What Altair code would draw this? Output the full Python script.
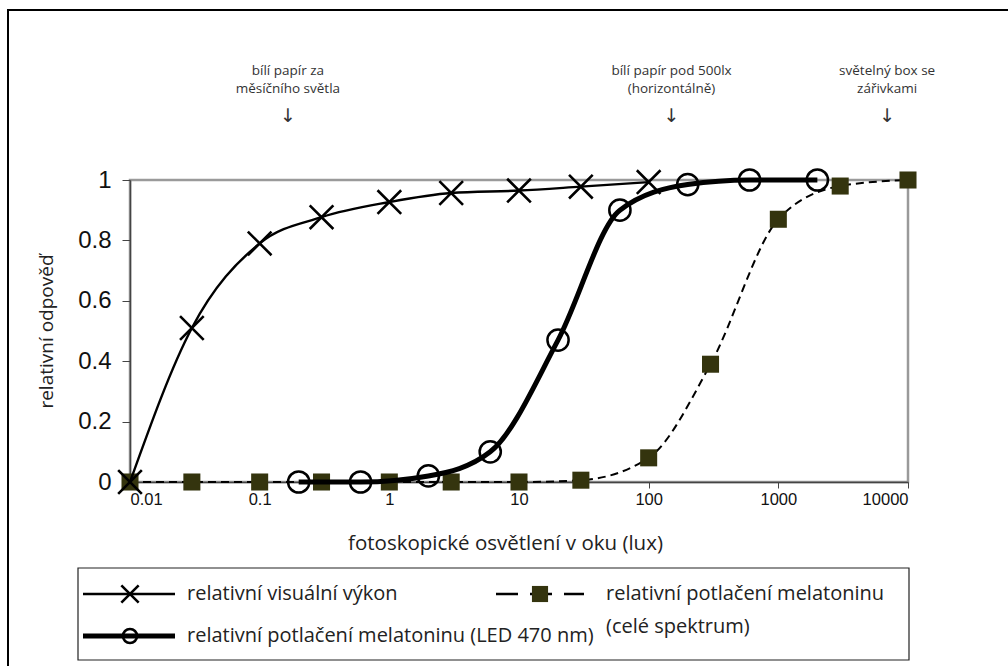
import altair as alt
import pandas as pd

# ---- data ----
vis_x = [0.01, 0.03, 0.1, 0.3, 1, 3, 10, 30, 100]
vis_y = [0.0, 0.51, 0.79, 0.877, 0.927, 0.957, 0.965, 0.978, 0.993]

led_x = [0.2, 0.6, 2, 6, 20, 60, 200, 600, 2000]
led_y = [0.0, 0.0, 0.02, 0.1, 0.47, 0.9, 0.985, 1.0, 1.0]

full_x = [0.01, 0.03, 0.1, 0.3, 1, 3, 10, 30, 100, 300, 1000, 3000, 10000]
full_y = [0.0, 0.0, 0.0, 0.0, 0.0, 0.0, 0.0, 0.006, 0.08, 0.39, 0.87, 0.98, 1.0]

x_ticks = [0.01, 0.1, 1, 10, 100, 1000, 10000]
y_ticks = [0, 0.2, 0.4, 0.6, 0.8, 1]

annot_x = [0.165, 150, 6900]
annot_text = ["bílí papír za\nměsíčního světla",
              "bílí papír pod 500lx\n(horizontálně)",
              "světelný box se\nzářivkami"]

x_title = "fotoskopické osvětlení v oku (lux)"
y_title = "relativní odpověď"
legend_labels = ["relativní visuální výkon",
                 "relativní potlačení melatoninu (LED 470 nm)",
                 "relativní potlačení melatoninu",
                 "(celé spektrum)"]

SQ_COLOR = "#34340e"
X_SHAPE = "M-1,-1L1,1M-1,1L1,-1"
TXT_FONT = "Open Sans"
NUM_FONT = "Liberation Sans"

xscale = alt.Scale(type="log", domain=[0.01, 10000])
yscale = alt.Scale(domain=[0, 1], nice=False)

xaxis = alt.Axis(values=x_ticks, format="~g", title=x_title,
                 labelFontSize=16.5, labelPadding=3, tickSize=6,
                 titleFontSize=20.5, titlePadding=26, titleX=375)
yaxis = alt.Axis(values=y_ticks, format="~g", title=y_title,
                 labelFontSize=24, labelPadding=11, tickSize=8,
                 titleFontSize=19, titleX=-74, titleY=151)

vis = pd.DataFrame({"x": vis_x, "y": vis_y})
led = pd.DataFrame({"x": led_x, "y": led_y})
full = pd.DataFrame({"x": full_x, "y": full_y})

enc = dict(x=alt.X("x:Q", scale=xscale, axis=xaxis),
           y=alt.Y("y:Q", scale=yscale, axis=yaxis))

full_line = alt.Chart(full).mark_line(color="black", strokeWidth=2, strokeDash=[8, 5],
                                      interpolate="monotone").encode(**enc)
full_pts = alt.Chart(full).mark_point(shape="square", filled=True, color=SQ_COLOR,
                                      size=290, opacity=1).encode(**enc)
led_line = alt.Chart(led).mark_line(color="black", strokeWidth=5,
                                    interpolate="monotone").encode(**enc)
led_pts = alt.Chart(led).mark_point(shape="circle", filled=False, color="black",
                                    strokeWidth=2.5, size=450, opacity=1).encode(**enc)
vis_line = alt.Chart(vis).mark_line(color="black", strokeWidth=2.4,
                                    interpolate="monotone").encode(**enc)
vis_pts = alt.Chart(vis).mark_point(shape=X_SHAPE, filled=False, color="black",
                                    strokeWidth=2.6, size=560, opacity=1).encode(**enc)

# ---- annotations above the plot ----
ann = pd.DataFrame({"x": annot_x, "t": annot_text})
ann_text = alt.Chart(ann).mark_text(font=TXT_FONT, fontSize=13.5, color="#333",
                                    lineBreak="\n", lineHeight=18, align="center",
                                    baseline="top").encode(
    x=alt.X("x:Q", scale=xscale, axis=xaxis), y=alt.value(-116), text="t:N")
ann_arrow = alt.Chart(ann).mark_text(font="DejaVu Sans", fontSize=19, color="#333",
                                     align="center", baseline="middle", text="↓").encode(
    x=alt.X("x:Q", scale=xscale, axis=xaxis), y=alt.value(-64))

one = pd.DataFrame({"a": [0]})

# outer frame and legend box
frame = alt.Chart(one).mark_rect(fill=None, stroke="black", strokeWidth=2).encode(
    x=alt.value(-122), x2=alt.value(1000), y=alt.value(-170), y2=alt.value(700))
legend_box = alt.Chart(one).mark_rect(fill="white", stroke="#222", strokeWidth=1.2).encode(
    x=alt.value(-52), x2=alt.value(779), y=alt.value(388), y2=alt.value(480))

# legend symbols
lg1_line = alt.Chart(one).mark_rule(color="black", strokeWidth=2.4).encode(
    x=alt.value(-47), x2=alt.value(45), y=alt.value(414))
lg1_pt = alt.Chart(one).mark_point(shape=X_SHAPE, filled=False, color="black",
                                   strokeWidth=2.6, size=300, opacity=1).encode(
    x=alt.value(0), y=alt.value(414))
lg2_line = alt.Chart(one).mark_rule(color="black", strokeWidth=5).encode(
    x=alt.value(-47), x2=alt.value(45), y=alt.value(456))
lg2_pt = alt.Chart(one).mark_point(shape="circle", filled=False, color="black",
                                   strokeWidth=2.5, size=200, opacity=1).encode(
    x=alt.value(0), y=alt.value(456))
lg3_line = alt.Chart(one).mark_rule(color="black", strokeWidth=2.6, strokeDash=[22, 12]).encode(
    x=alt.value(366), x2=alt.value(454), y=alt.value(414))
lg3_pt = alt.Chart(one).mark_point(shape="square", filled=True, color=SQ_COLOR,
                                   size=260, opacity=1).encode(
    x=alt.value(410), y=alt.value(414))

def ltext(s, x, y):
    return alt.Chart(one).mark_text(font=TXT_FONT, fontSize=20, color="#222",
                                    align="left", baseline="middle", text=s).encode(
        x=alt.value(x), y=alt.value(y))

lt1 = ltext(legend_labels[0], 57, 414)
lt2 = ltext(legend_labels[1], 57, 456)
lt3 = ltext(legend_labels[2], 476, 414)
lt4 = ltext(legend_labels[3], 476, 447)

chart = alt.layer(
    full_line, full_pts, led_line, led_pts, vis_line, vis_pts,
    ann_text, ann_arrow, frame, legend_box,
    lg1_line, lg1_pt, lg2_line, lg2_pt, lg3_line, lg3_pt,
    lt1, lt2, lt3, lt4,
).properties(
    width=778, height=302,
    autosize=alt.AutoSizeParams(type="none"),
    padding={"left": 130, "top": 180, "right": 100, "bottom": 184},
    background="white",
).configure_view(
    stroke="#9a9a9a", strokeWidth=2.5
).configure_axis(
    grid=False, tickColor="#444", domainColor="#444", domainWidth=1.5,
    labelFont=NUM_FONT, labelColor="#111", titleFont=TXT_FONT,
    titleFontWeight="normal", titleColor="#222",
)

chart.save("out.html", embed_options={"renderer": "svg", "actions": False})
